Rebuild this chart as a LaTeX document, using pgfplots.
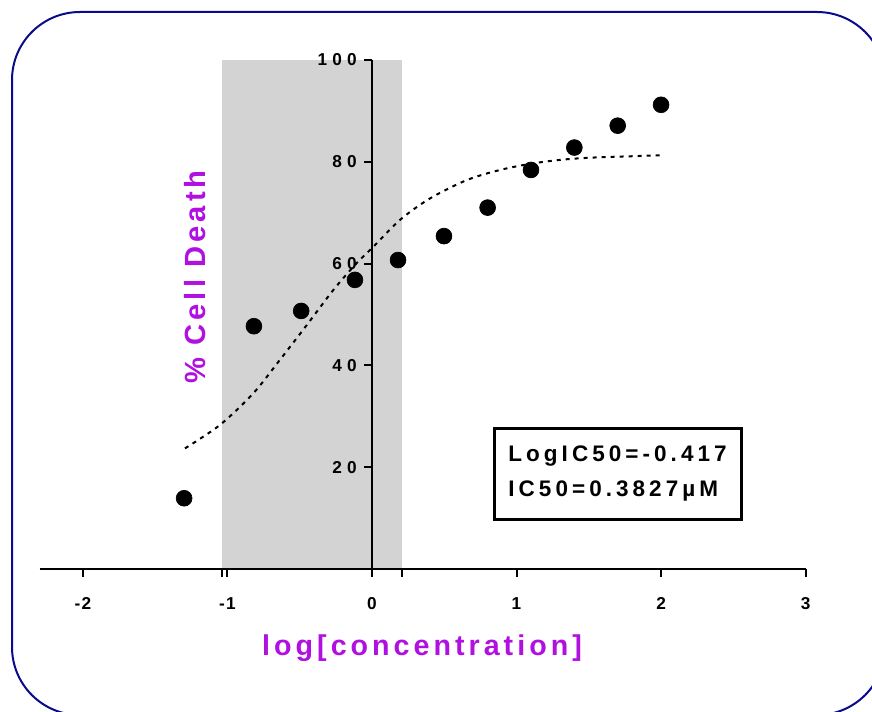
\documentclass[border=0pt]{standalone}
\usepackage{fontspec}
\setmainfont{Liberation Sans}
\usepackage{pgfplots}
\pgfplotsset{compat=1.18}
\newfontfamily\ytickfont[LetterSpace=30]{Liberation Sans}
\newfontfamily\xtickfont[LetterSpace=8]{Liberation Sans}
\newfontfamily\labelfont[LetterSpace=14]{Liberation Sans}
\newfontfamily\boxfont[LetterSpace=18]{Liberation Sans}
\definecolor{framenavy}{RGB}{10,10,140}
\definecolor{lblpurple}{RGB}{176,16,224}
\definecolor{bandgray}{RGB}{211,211,211}

% fitted curve
\pgfplotstableread{
x y
-1.294 23.7
-1.052 28.3
-0.822 34.5
-0.637 41.1
-0.452 47.9
-0.268 54.8
-0.106 60.1
0.009 63.3
0.194 68.6
0.401 72.8
0.655 76.4
0.886 78.4
1.116 79.7
1.347 80.5
1.580 80.9
1.808 81.1
2.005 81.3
}\fitcurve

\begin{document}
\begin{tikzpicture}
\useasboundingbox (0,0) rectangle (17.44,14.22);
\begin{scope}
\clip (0,0) rectangle (17.44,14.22);
\draw[framenavy, line width=0.04cm, rounded corners=1.36cm] (0.24,13.98) rectangle (17.7,-0.08);
\end{scope}
\begin{axis}[
    at={(7.44cm,2.84cm)}, anchor=origin,
    scale only axis,
    width=15.32cm, height=10.18cm,
    xmin=-2.3, xmax=3, ymin=0, ymax=100,
    axis lines=middle,
    axis line style={-, line width=0.04cm},
    axis on top,
    clip=false,
    hide obscured x ticks=false,
    tick align=outside,
    major tick length=0.16cm,
    tick style={black, line width=0.04cm},
    xtick={-2,-1,0,1,2,3},
    xticklabels={-2,-1,0,1,2,3},
    extra x ticks={-1.04,0.21},
    extra x tick labels={},
    extra x tick style={tick align=outside},
    ytick={20,40,60,80,100},
    yticklabels={20,40,60,80,100},
    xticklabel style={font=\xtickfont\bfseries\fontsize{9.8}{11}\selectfont, yshift=-0.28cm},
    yticklabel style={font=\ytickfont\bfseries\fontsize{9.8}{11}\selectfont, xshift=-0.02cm},
]
\addplot[draw=none, fill=bandgray] coordinates {(-1.04,0) (-1.04,100) (0.21,100) (0.21,0)} -- cycle;
\addplot[black, line width=0.04cm, dash pattern=on 0.08cm off 0.1cm, no markers, smooth] table[x=x,y=y] {\fitcurve};
\addplot[only marks, mark=*, mark size=4.5pt, black] coordinates {
(-1.30,13.9) (-0.817,47.7) (-0.49,50.7) (-0.118,56.8) (0.18,60.7) (0.498,65.4)
(0.80,71.0) (1.10,78.4) (1.40,82.8) (1.70,87.1) (2.00,91.2)};
\end{axis}
\node[rotate=90, text=lblpurple, font=\labelfont\bfseries\fontsize{16.6}{20}\selectfont] at (3.9,8.68) {\% Cell Death};
\node[text=lblpurple, font=\labelfont\bfseries\fontsize{16.3}{20}\selectfont] at (8.44,1.25) {log[concentration]};
\node[draw=black, line width=0.06cm, minimum width=4.94cm, minimum height=1.82cm, align=left,
      font=\boxfont\bfseries\fontsize{12.8}{19.5}\selectfont] at (12.35,4.75) {LogIC50=-0.417\\IC50=0.3827µM};
\end{tikzpicture}
\end{document}
